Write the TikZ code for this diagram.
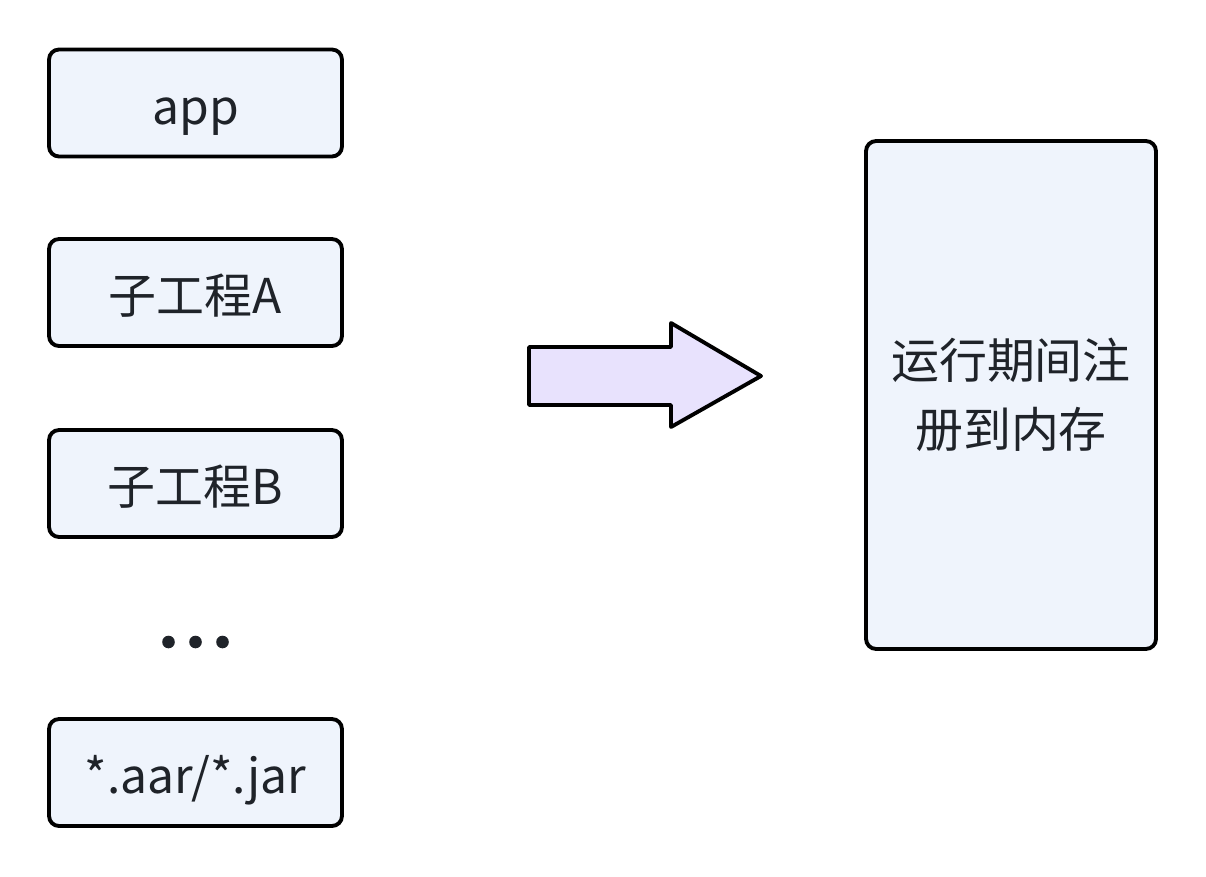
\documentclass[tikz,border=0pt]{standalone}
\usepackage{fontspec}
\setmainfont{Noto Sans CJK SC}
\usetikzlibrary{calc, positioning}

\begin{document}
\begin{tikzpicture}[x=0.02cm,y=-0.02cm]
\definecolor{boxfill}{HTML}{EFF4FC}
\definecolor{arrowfill}{HTML}{E8E2FD}
\definecolor{textdark}{HTML}{1F2329}
\tikzset{
  modulebox/.style={draw=black,fill=boxfill,line width=2.2pt,rounded corners=0.2cm,
    minimum width=5.86cm,minimum height=2.14cm,inner sep=0pt,
    text=textdark,font=\fontsize{27.3}{39}\selectfont,
    text height=27pt,text depth=3pt},
}
\useasboundingbox (0,0) rectangle (1206,876);

\node[modulebox] (app) at (195.5,103) {app};
\node[modulebox] (subA) at (195.5,292.5) {子工程A};
\node[modulebox] (subB) at (195.5,483.5) {子工程B};
\node[text=textdark,inner sep=0pt] (dots) at (195.5,642) {};
\foreach \dx in {-27,0,27} {
  \fill[textdark] ($(dots)+(\dx,0)$) circle[radius=6.3];
}
\node[modulebox] (aar) at (195.5,772.5) {*.aar/*.jar};

\node[modulebox,minimum width=5.8cm,minimum height=10.16cm,align=center,
  text height=,text depth=] (runtime) at (1011,395) {运行期间注\\册到内存};

\draw[black,fill=arrowfill,line width=2.2pt,line join=round]
  (529,347) -- (671,347) -- (671,323) -- (761,376) -- (671,427)
  -- (671,405) -- (529,405) -- cycle;
\end{tikzpicture}
\end{document}
